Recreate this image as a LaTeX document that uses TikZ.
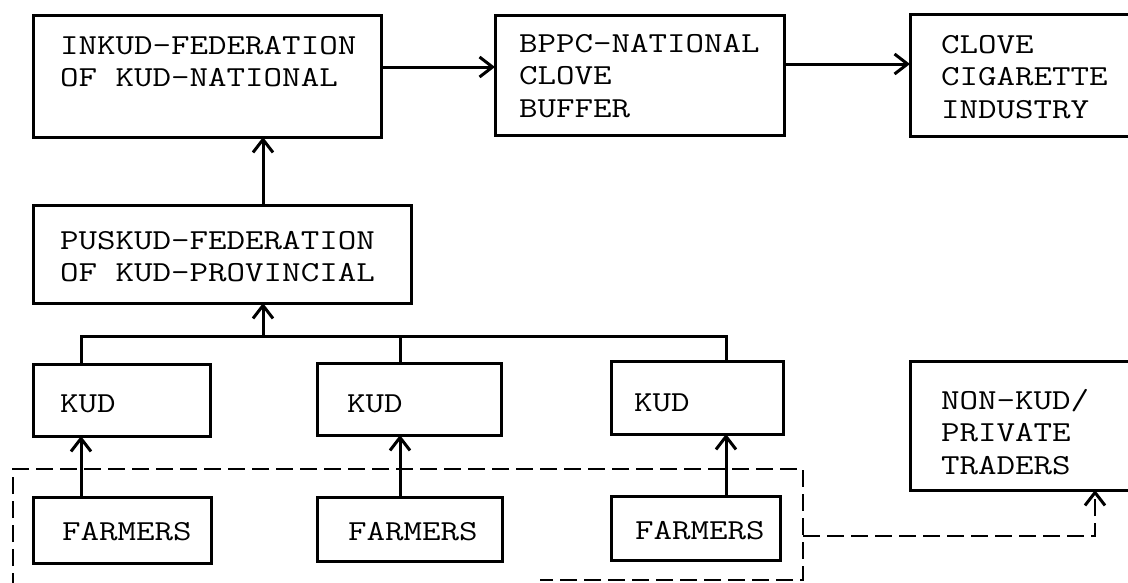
\documentclass[tikz,border=0pt]{standalone}
\usepackage{fontspec}
\usepackage{graphicx}
\usetikzlibrary{arrows.meta,calc}

% typewriter-style multi-line label, widened to a Courier-like pitch
\newcommand{\boxtext}[1]{\scalebox{1.24}[1]{\begin{tabular}[t]{@{}l@{}}#1\end{tabular}}}

\begin{document}
\begin{tikzpicture}[x=1pt,y=-1pt,
  box/.style={draw, line width=3pt, rectangle, inner sep=0pt, outer sep=0pt, anchor=north west},
  lbl/.style={anchor=base west, inner sep=0pt, outer sep=0pt, font=\fontsize{29}{32.5}\selectfont\ttfamily},
  link/.style={line width=3pt},
  tip/.style={-{Straight Barb[length=13pt,width=20pt,line width=3pt]}},
  arr/.style={link, tip},
  dashline/.style={line width=2.8pt, dash pattern=on 17pt off 7pt}
]
\useasboundingbox (0,0) rectangle (1128,582);
\clip (0,0) rectangle (1128,582);

% boxes
\node[box, minimum width=348pt, minimum height=122pt] (inkud)  at (33,15)  {};
\node[box, minimum width=289pt, minimum height=120pt] (bppc)   at (495,15) {};
\node[box, minimum width=230pt, minimum height=122pt] (clove)  at (910,14) {};
\node[box, minimum width=378pt, minimum height=98pt]  (puskud) at (33,205) {};
\node[box, minimum width=177pt, minimum height=72pt]  (kud1)   at (33,364) {};
\node[box, minimum width=184pt, minimum height=72pt]  (kud2)   at (317,363) {};
\node[box, minimum width=172pt, minimum height=73pt]  (kud3)   at (611,361) {};
\node[box, minimum width=178pt, minimum height=66pt]  (far1)   at (33,497) {};
\node[box, minimum width=185pt, minimum height=64pt]  (far2)   at (317,497) {};
\node[box, minimum width=169pt, minimum height=64pt]  (far3)   at (611,496) {};
\node[box, minimum width=230pt, minimum height=129pt] (nonkud) at (910,361) {};

% labels
\node[lbl] (inkud-t)  at (60,54)   {\boxtext{INKUD-FEDERATION\\OF KUD-NATIONAL}};
\node[lbl] (bppc-t)   at (519,52)  {\boxtext{BPPC-NATIONAL\\CLOVE\\BUFFER}};
\node[lbl] (clove-t)  at (941,53)  {\boxtext{CLOVE\\CIGARETTE\\INDUSTRY}};
\node[lbl] (puskud-t) at (60,249)  {\boxtext{PUSKUD-FEDERATION\\OF KUD-PROVINCIAL}};
\node[lbl] (kud1-t)   at (60,412)  {\boxtext{KUD}};
\node[lbl] (kud2-t)   at (347,412) {\boxtext{KUD}};
\node[lbl] (kud3-t)   at (634,411) {\boxtext{KUD}};
\node[lbl] (far1-t)   at (62,540)  {\boxtext{FARMERS}};
\node[lbl] (far2-t)   at (348,540) {\boxtext{FARMERS}};
\node[lbl] (far3-t)   at (635,539) {\boxtext{FARMERS}};
\node[lbl] (nonkud-t) at (941,409) {\boxtext{NON-KUD/\\PRIVATE\\TRADERS}};

% helper coordinates for connector lines
\coordinate (h1) at (0,67);
\coordinate (h2) at (0,64);
\coordinate (v0) at (263,0);
\coordinate (b1) at (81,336);
\coordinate (b2) at (400,336);
\coordinate (b3) at (726,336);
\coordinate (bm) at (263,336);
\coordinate (dr) at (803,536);
\coordinate (dc) at (1095,536);

% top row flow
\draw[arr] (inkud.east |- h1) -- (bppc.west |- h1);
\draw[arr] (bppc.east |- h2) -- (clove.west |- h2);
\draw[arr] (puskud.north -| v0) -- (inkud.south -| v0);

% KUD collecting bus
\draw[link] (kud1.north -| b1) -- (b1) -- (b3) -- (kud3.north -| b3);
\draw[link] (b2) -- (kud2.north -| b2);
\draw[arr] (bm) -- (puskud.south -| bm);

% farmers to KUD
\draw[arr] (far1.north -| b1) -- (kud1.south -| b1);
\draw[arr] (far2.north -| b2) -- (kud2.south -| b2);
\draw[arr] (far3.north -| b3) -- (kud3.south -| b3);

% dashed farmer group and its flow to private traders
\draw[dashline] (13,590) -- (13,469) -- (803,469) -- (803,580) -- (540,580);
\draw[dashline, tip] (dr) -- (dc) -- (nonkud.south -| dc);
\end{tikzpicture}
\end{document}
